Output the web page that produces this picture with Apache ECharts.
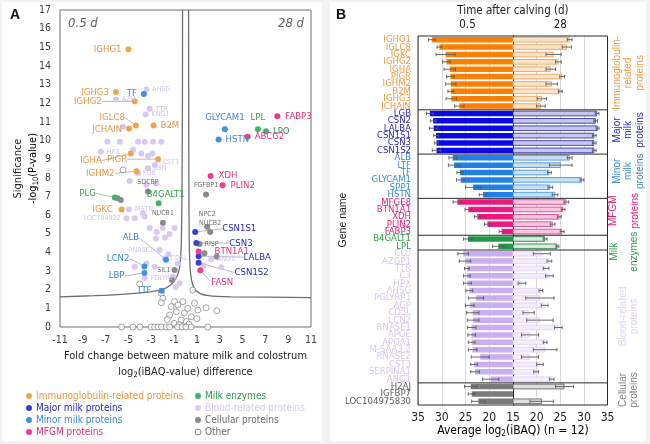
<!DOCTYPE html>
<html><head><meta charset="utf-8">
<script src="https://cdn.jsdelivr.net/npm/echarts@6/dist/echarts.min.js"></script>
<style>html,body{margin:0;padding:0;background:#f2f2f2}#c{width:650px;height:444px}</style>
</head><body><div id="c"></div>
<script>
// ================= Panel A data (volcano) : [log2 diff, -log10 P, gene] =================
const igPts = [[-5.0,14.9,'IGHG1'],[-6.1,12.6,'IGHG3'],[-4.45,12.1,'IGHG2'],[-4.35,10.8,'IGLC8'],[-4.95,10.65,'JCHAIN'],[-2.8,10.8,'B2M'],[-4.8,9.3,'IGHA'],[-2.4,9.0,'PIGR'],[-4.3,8.35,'IGHM2'],[-5.6,6.3,'IGKC']];
const majorPts = [[0.85,5.1,'CSN1S1'],[0.95,4.5,'CSN3'],[1.15,3.8,'LALBA'],[1.15,3.45,'CSN1S2']];
const minorPts = [[-3.65,12.5,'TF'],[3.45,10.6,'GLYCAM1'],[2.9,10.05,'HSTN'],[-1.7,3.6,'ALB'],[-3.6,3.25,'LCN2'],[-3.6,2.9,'LBP'],[-2.1,1.95,'LTF']];
const mfgmPts = [[8.05,11.3,'FABP3'],[5.45,10.2,'ABCG2'],[2.2,8.1,'XDH'],[3.25,7.6,'PLIN2'],[1.15,4.05,'BTN1A1'],[1.3,3.05,'FASN']];
const enzymePts = [[6.35,10.6,'LPL'],[7.05,10.5,'LPO'],[-6.2,6.95,'PLG'],[-2.35,6.63,'B4GALT1']];
const cellPts = [[-5.67,6.81,''],[-5.95,6.9,''],[-3.29,7.26,'SDCBP'],[-1.98,5.59,'NUCB1'],[1.8,7.1,'FGFBP1'],[1.9,5.38,'NPC2'],[2.16,5.1,'NUCB2'],[1.23,4.45,'RISP'],[1.66,3.95,''],[2.74,3.77,''],[-0.96,3.06,'SIL1'],[-1.19,2.52,'']];
const bloodPts = [[-3.43,12.74,'AHSG'],[-6.1,12.2,'A2M'],[-3.14,11.7,'TTR'],[-3.5,11.4,'KNG1'],[-5.47,10.74,''],
 [-6.84,9.94,''],[-5.76,9.94,''],[-4.16,9.94,''],[-3.58,9.94,''],[-2.85,9.94,''],[-2.12,9.94,''],
 [-7.42,9.4,'HPX'],[-4.6,9.5,''],[-3.87,9.31,''],[-3.29,9.17,''],[-2.9,9.3,''],
 [-3.29,8.51,'GSN'],[-4.16,8.24,'FGB'],[-2.7,8.7,'CST3'],[-4.89,7.83,''],[-3.43,7.61,''],[-2.56,7.7,''],
 [-4.95,6.31,'MSTN'],[-3.72,6.1,''],[-5.17,5.83,'LOC784932'],[-4.45,5.83,''],[-3.58,5.92,''],
 [-3.14,5.31,''],[-2.53,5.09,''],[-2.0,5.31,''],[-1.4,4.99,''],[-0.96,5.31,''],[-1.8,4.8,''],[-2.6,4.75,''],
 [-2.27,4.13,'RNASE2'],[-4.45,3.23,''],[-3.43,3.41,''],[-2.7,3.23,''],[-1.83,3.68,'CD5L'],[-1.5,3.9,''],
 [-3.58,2.61,'PGLYRP1'],[-0.67,3.41,''],[-1.1,2.7,''],[-0.52,2.34,''],[-0.85,2.15,''],
 [2.25,3.63,'ANG1'],[3.12,3.2,''],[1.6,3.3,'']];
const otherPts = [[-5.47,8.42],[-4.01,2.31],[-2.12,1.81],[-1.98,1.54],[-2.12,1.3],[-0.96,1.36],[-1.25,1.09],[-0.67,1.18],[-0.23,1.36],[-1.39,0.64],[-0.81,0.82],[-0.37,0.38],[0.07,0.29],[0.5,0.55],[0.79,1.27],[0.64,1.98],[1.08,0.91],[1.81,1.03],[2.74,0.87],[-1.6,0.4],[-1.0,0.2],[-0.55,0.12],[0.3,0.15],[1.0,0.45],[-0.1,0.75],[0.2,1.0],
 [-5.6,0],[-4.6,0],[-4.0,0],[-3.0,0],[-2.7,0],[-2.4,0],[-2.1,0],[-1.7,0],[-1.4,0],[-0.7,0],[-0.3,0],[0.05,0],[0.5,0],[1.95,0]];
// significance threshold curves
const leftCurve = [[-11,1.62],[-8,1.68],[-5,1.78],[-3,1.9],[-2,2.02],[-1.3,2.25],[-0.8,2.65],[-0.55,3.1],[-0.42,3.8],[-0.35,5],[-0.3,8],[-0.27,12],[-0.26,17]];
const rightCurve = [[0.27,17],[0.28,12],[0.3,7],[0.33,4.5],[0.4,3.2],[0.52,2.55],[0.75,2.1],[1.2,1.82],[2,1.68],[4,1.62],[11,1.58]];
const xTicksA = [-11,11,2];
const yTicksA = [0,17,1];
const legendNames = ['Immunoglobulin-related proteins','Major milk proteins','Minor milk proteins','MFGM proteins','Milk enzymes','Blood-related proteins','Cellular proteins','Other'];

// ================= Panel B data =================
const groupNames = ['Immunoglobulin-related proteins','Major milk proteins','Minor milk proteins','MFGM proteins','Milk enzymes','Blood-related proteins','Cellular proteins'];
const groupLabelLines = [['Immunoglobulin-','related','proteins'],['Major','milk','proteins'],['Minor','milk','proteins'],['MFGM','proteins'],['Milk','enzymes'],['Blood-related','proteins'],['Cellular','proteins']];
const groupSizes = [10,6,6,5,2,18,3];
const genesB = ['IGHG1','IGLC8','IGKC','IGHG2','IGHA','PIGR','IGHM2','B2M','IGHG3','JCHAIN',
 'LGB','CSN2','LALBA','CSN1S1','CSN3','CSN1S2',
 'ALB','LTF','TF','GLYCAM1','SPP1','HSTN',
 'MFGE8','BTN1A1','XDH','PLIN2','FABP3',
 'B4GALT1','LPL',
 'CLU','AZGP1','TTR','C3','HPX','AHSG','PGLYRP1','AGP','CD5L','LCN2','RNASE1','APOE','APOA1','M-SAA3.2','RNASE2','CST3','SERPINA1','ANG1',
 'H2AJ','IGFBP7','LOC104975830'];
const mean05 = [32.1,30.5,29.2,29.0,28.3,28.2,28.1,28.1,28.0,26.3,
 32.5,31.8,31.7,31.2,31.1,31.1,
 27.7,27.4,26.2,26.0,23.4,21.3,
 26.7,24.4,22.5,20.4,17.4,
 24.5,18.1,
 25.5,25.1,24.7,24.7,24.6,24.2,22.8,24.1,23.5,23.4,23.7,23.7,23.7,23.5,21.9,23.2,23.0,19.7,
 23.9,23.7,22.3];
const sd05 = [0.7,0.5,2.0,0.8,1.2,0.8,1.1,0.6,1.1,1.0,
 0.7,0.6,0.9,0.5,0.4,0.9,
 0.8,1.2,0.6,0.9,1.6,0.8,
 0.9,0.7,0.6,0.6,0.5,
 0.9,1.2,
 1.1,1.2,0.5,0.7,0.8,0.7,1.6,0.9,1.3,1.2,0.9,0.8,0.7,0.9,1.9,0.7,0.9,1.7,
 1.3,0.7,1.4];
const mean28 = [27.0,26.4,23.6,24.6,23.0,25.4,23.2,25.0,21.1,20.9,
 32.8,32.5,32.9,32.2,32.2,32.2,
 27.0,25.1,22.7,29.6,22.9,23.9,
 26.3,25.6,24.8,23.4,25.4,
 21.8,24.4,
 21.1,22.7,22.0,22.7,16.9,20.9,20.7,21.7,18.3,20.7,24.6,18.6,21.8,21.8,18.6,20.7,19.9,23.2,
 25.9,null,21.1];
const sd28 = [0.5,1.0,1.6,0.6,1.0,0.5,1.2,0.4,1.0,0.9,
 0.4,0.4,0.3,0.4,0.4,0.4,
 0.5,2.4,0.4,0.4,0.5,0.6,
 0.5,0.4,0.4,0.5,0.4,
 0.4,0.3,
 1.8,0.5,0.6,0.8,0.8,0.4,3.0,0.7,1.2,2.8,0.8,1.8,0.4,2.5,1.8,0.7,0.5,0.5,
 1.9,null,2.5];
const timeLabels = ['0.5','28'];
const xTicksB = [15,35,5];

// ================= styles =================
const FN = "'Liberation Sans Narrow','DejaVu Sans Condensed','Liberation Sans',Arial,sans-serif";
const FR = "'Liberation Sans',Arial,sans-serif";
const dotCols = ['#f0a24c','#3c3cd4','#3f92e0','#ec3c8e','#3fb56c','#dac8f4','#8a8a8a'];
const txtCols = ['#ea9440','#2a2ab8','#3a86d0','#e0307e','#2e9e4e','#d2bfef','#6e6e6e'];
const darkCols = ['#ff8000','#0a0ae6','#1f80e8','#ee1680','#1e9a48','#c9aef2','#7a7a7a'];
const paleCols = ['#fde3c4','#c6c6f5','#c5e1f8','#fbc6e2','#d3eedb','#f3ecfc','#dedede'];
const paleBord = ['#e39a52','#25259a','#3c8dd6','#d8337f','#1f6e33','#e0d2f5','#595959'];
const geneCols = ['#ee9a44','#2a2ab4','#3a8ad6','#e0207a','#2e9a4a','#d6c6f0','#595959'];
// label placement for volcano: [position, distance, dx, dy, leaderLine]
const labelPos = {
 IGHG1:['left',4,0,0],IGHG3:['left',4,0,0],IGHG2:['left',30,0,0,1],TF:['left',4,0,0],IGLC8:['left',6,-2,-8,1],
 JCHAIN:['left',4,0,1],B2M:['right',4,0,0],IGHA:['left',26,0,7,1],PIGR:['left',28,0,0,1],IGHM2:['left',19,0,2,1],
 IGKC:['left',6,0,0],PLG:['left',16,0,-4,1],B4GALT1:['top',1,7,0],ALB:['left',24,0,-22,1],LCN2:['left',12,0,-8,1],
 LBP:['left',17,0,3,1],LTF:['left',7,0,0],GLYCAM1:['top',4,0,0],HSTN:['right',4,0,0],LPL:['top',4,0,0],LPO:['right',4,0,0],
 FABP3:['right',5,0,0],ABCG2:['right',4,0,0],XDH:['right',5,0,0],PLIN2:['right',5,0,0],CSN1S1:['right',24,0,-3,1],
 CSN3:['right',30,0,0,1],BTN1A1:['right',13,0,0],LALBA:['right',42,0,1,1],CSN1S2:['right',33,0,10,1],FASN:['right',8,0,12,1],
 AHSG:['right',3,0,0],A2M:['right',3,0,0],TTR:['right',3,0,0],KNG1:['right',3,0,0],HPX:['right',3,0,0],GSN:['right',2,0,0],
 FGB:['right',2,0,0],CST3:['right',3,2,-3],MSTN:['right',3,0,0],LOC784932:['left',3,0,0],RNASE2:['left',3,0,0],CD5L:['right',3,0,0],
 PGLYRP1:['right',3,0,0],ANG1:['right',3,0,0],SDCBP:['top',3,0,0],NUCB1:['top',3,0,0],FGFBP1:['top',3,0,0],NPC2:['top',6,0,0],
 NUCB2:['top',2,0,0],RISP:['right',2,0,0],SIL1:['left',1,0,0]
};

function items(pts){
  return pts.map(p=>{
    const it={value:[p[0],p[1]],name:p[2]||''};
    const lp=p[2]?labelPos[p[2]]:null;
    if(lp){
      it.label={show:true,position:lp[0],distance:lp[1],offset:[lp[2],lp[3]]};
      if(lp[4]) it.labelLine={show:true};
    }
    return it;
  });
}
function volcSeries(pts,g,small){
  return {type:'scatter',xAxisIndex:0,yAxisIndex:0,symbolSize:6,data:items(pts),
    itemStyle:{color:dotCols[g],opacity:1},
    label:{show:false,formatter:'{b}',color:txtCols[g],fontSize:small?7:9.5,fontFamily:FN},
    labelLine:{show:false,lineStyle:{color:'#8c8c8c',width:0.6}},z:3};
}

const geneGroup=[]; groupSizes.forEach((n,g)=>{for(let i=0;i<n;i++) geneGroup.push(g);});

function errSeries(ax,means,sds){
  const data=[]; means.forEach((m,i)=>{ if(m!=null&&sds[i]!=null) data.push([m,sds[i],i]); });
  return {type:'custom',xAxisIndex:ax,yAxisIndex:ax,data:data,encode:{x:0,y:2},z:5,silent:true,clip:false,
    renderItem:function(params,api){
      const m=api.value(0),s=api.value(1),c=api.value(2);
      const a=api.coord([m-s,c]),b=api.coord([m+s,c]);
      const h=1.8, st={stroke:'#5a5a5a',lineWidth:0.9};
      return {type:'group',children:[
        {type:'line',shape:{x1:a[0],y1:a[1],x2:b[0],y2:b[1]},style:st},
        {type:'line',shape:{x1:a[0],y1:a[1]-h,x2:a[0],y2:a[1]+h},style:st},
        {type:'line',shape:{x1:b[0],y1:b[1]-h,x2:b[0],y2:b[1]+h},style:st}]};
    }};
}

const chart = echarts.init(document.getElementById('c'));
const option = {
  animation:false,
  backgroundColor:'transparent',
  textStyle:{fontFamily:FN},
  grid:[
    {left:60,top:10,width:251,height:317,show:true,borderColor:'#6e6e6e',borderWidth:1,backgroundColor:'transparent'},
    {left:418,top:36,width:95,height:369},
    {left:513,top:36,width:94.5,height:369}
  ],
  xAxis:[
    {type:'value',gridIndex:0,min:xTicksA[0],max:xTicksA[1],interval:xTicksA[2],axisLine:{show:false},axisTick:{show:false},splitLine:{show:false},
     axisLabel:{fontSize:10.5,color:'#404040',margin:8,fontFamily:FN}},
    {type:'value',gridIndex:1,min:xTicksB[0],max:xTicksB[1],interval:xTicksB[2],inverse:true,axisLine:{show:false},axisTick:{show:false},
     splitLine:{show:true,lineStyle:{color:'#d9d9d9',width:1}},axisLabel:{showMinLabel:false,fontSize:12,color:'#222',margin:7,fontFamily:FN}},
    {type:'value',gridIndex:2,min:xTicksB[0],max:xTicksB[1],interval:xTicksB[2],axisLine:{show:false},axisTick:{show:false},
     splitLine:{show:true,lineStyle:{color:'#d9d9d9',width:1}},axisLabel:{fontSize:12,color:'#222',margin:7,fontFamily:FN}}
  ],
  yAxis:[
    {type:'value',gridIndex:0,min:yTicksA[0],max:yTicksA[1],interval:yTicksA[2],axisLine:{show:false},axisTick:{show:false},splitLine:{show:false},
     axisLabel:{fontSize:10.5,color:'#404040',margin:9,fontFamily:FN}},
    {type:'category',gridIndex:1,data:genesB,inverse:true,axisLine:{show:false},axisTick:{show:false},
     axisLabel:{interval:0,fontSize:9.5,lineHeight:8,margin:7,fontFamily:FN,color:function(v,i){return geneCols[geneGroup[i]];}}},
    {type:'category',gridIndex:2,data:genesB,inverse:true,axisLine:{show:true,lineStyle:{color:'#333',width:1}},
     axisTick:{show:true,length:3,alignWithLabel:true,lineStyle:{color:'#333'}},axisLabel:{show:false}}
  ],
  series:[
    {type:'line',xAxisIndex:0,yAxisIndex:0,data:leftCurve,showSymbol:false,symbol:'none',smooth:0.25,lineStyle:{color:'#6e6e6e',width:1.3},z:1,silent:true},
    {type:'line',xAxisIndex:0,yAxisIndex:0,data:rightCurve,showSymbol:false,symbol:'none',smooth:0.25,lineStyle:{color:'#6e6e6e',width:1.3},z:1,silent:true},
    {type:'scatter',xAxisIndex:0,yAxisIndex:0,symbolSize:6,data:otherPts,itemStyle:{color:'#ffffff',borderColor:'#707070',borderWidth:0.8},z:2},
    volcSeries(bloodPts,5,true),
    volcSeries(cellPts,6,true),
    volcSeries(igPts,0,false),
    volcSeries(majorPts,1,false),
    volcSeries(minorPts,2,false),
    volcSeries(mfgmPts,3,false),
    volcSeries(enzymePts,4,false),
    {type:'bar',xAxisIndex:1,yAxisIndex:1,barWidth:5.5,silent:true,
     data:mean05.map((v,i)=>({value:v,itemStyle:{color:darkCols[geneGroup[i]]}}))},
    {type:'bar',xAxisIndex:2,yAxisIndex:2,barWidth:5.5,silent:true,
     data:mean28.map((v,i)=>v==null?'-':({value:v,itemStyle:{color:paleCols[geneGroup[i]],borderColor:paleBord[geneGroup[i]],borderWidth:0.8}}))},
    errSeries(1,mean05,sd05),
    errSeries(2,mean28,sd28)
  ]
};
chart.setOption(option);

// ---------- annotations derived from the axes ----------
const g = [];
g.push({type:'rect',z:-10,shape:{x:2,y:2,width:320,height:439},style:{fill:'#fff'}});
g.push({type:'rect',z:-10,shape:{x:330,y:2,width:316,height:439},style:{fill:'#fff'}});
g.push({type:'text',x:10,y:8,style:{text:'A',font:"bold 14px "+FR,fill:'#111'}});
g.push({type:'text',x:336,y:8,style:{text:'B',font:"bold 14px "+FR,fill:'#111'}});
// panel A texts
const aL = chart.convertToPixel({xAxisIndex:0},xTicksA[0]), aR = chart.convertToPixel({xAxisIndex:0},xTicksA[1]);
const aT = chart.convertToPixel({yAxisIndex:0},yTicksA[1]), aB = chart.convertToPixel({yAxisIndex:0},yTicksA[0]);
const aMid = (aL+aR)/2;
g.push({type:'text',x:aL+8,y:aT+14,style:{text:'0.5 d',font:"italic 13px "+FN,fill:'#606060',verticalAlign:'middle'}});
g.push({type:'text',x:aR-7,y:aT+14,style:{text:'28 d',font:"italic 13px "+FN,fill:'#606060',align:'right',verticalAlign:'middle'}});
g.push({type:'text',x:aMid,y:aB+29,style:{text:'Fold change between mature milk and colostrum',font:"11px "+FN,fill:'#222',align:'center',verticalAlign:'middle'}});
g.push({type:'text',x:aMid,y:aB+45,style:{text:'{a|log}{s|2}{a|(iBAQ-value) difference}',align:'center',verticalAlign:'middle',
  rich:{a:{fontSize:11,fontFamily:FN,fill:'#222',color:'#222'},s:{fontSize:7.5,fontFamily:FN,color:'#222',padding:[6,0,0,0]}}}});
const aYm = (aT+aB)/2;
g.push({type:'text',x:18,y:aYm,rotation:Math.PI/2,style:{text:'Significance',font:"11px "+FN,fill:'#222',align:'center',verticalAlign:'middle'}});
g.push({type:'text',x:33,y:aYm,rotation:Math.PI/2,style:{text:'{a|-log}{s|10}{a|(P-value)}',align:'center',verticalAlign:'middle',
  rich:{a:{fontSize:11,fontFamily:FN,color:'#222'},s:{fontSize:7.5,fontFamily:FN,color:'#222',padding:[6,0,0,0]}}}});
// legend
const legCols = [txtCols[0],txtCols[1],txtCols[2],txtCols[3],txtCols[4],'#d8c6f2','#6a6a6a','#6a6a6a'];
const legDots = [dotCols[0],dotCols[1],dotCols[2],dotCols[3],dotCols[4],dotCols[5],dotCols[6],'#fff'];
legendNames.forEach((nm,i)=>{
  const col=Math.floor(i/4), row=i%4;
  const x = col===0?29:198, y = aB+69+row*12;
  g.push({type:'circle',shape:{cx:x,cy:y,r:3},style:{fill:legDots[i],stroke:i===7?'#6a6a6a':null,lineWidth:0.8}});
  g.push({type:'text',x:x+7,y:y,style:{text:nm,font:"10px "+FN,fill:legCols[i],verticalAlign:'middle'}});
});
// panel B frame, separators and labels
const xL = chart.convertToPixel({xAxisIndex:1},xTicksB[1]);
const xC = chart.convertToPixel({xAxisIndex:2},xTicksB[0]);
const xR = chart.convertToPixel({xAxisIndex:2},xTicksB[1]);
const yc = genesB.map(n=>chart.convertToPixel({yAxisIndex:1},n));
const step = yc[1]-yc[0];
const yTop = yc[0]-step/2, yBot = yc[yc.length-1]+step/2;
const ln = {stroke:'#2a2a2a',lineWidth:1};
g.push({type:'rect',z:50,shape:{x:xL,y:yTop,width:xR-xL,height:yBot-yTop},style:{fill:null,stroke:'#2a2a2a',lineWidth:1}});
let cum=0;
groupSizes.forEach((n,gi)=>{
  const y0 = yc[cum]-step/2, y1 = yc[cum+n-1]+step/2, ym=(y0+y1)/2;
  if(cum>0) g.push({type:'line',z:50,shape:{x1:xL,y1:y0,x2:xR,y2:y0},style:ln});
  const lines = groupLabelLines[gi];
  const xo = lines.length===3?[10,21,33]:(gi===3?[6,28]:(gi===4?[7,27]:[16,27]));
  const yshift = [0,-2,-5,-6,9,0,-4][gi];
  lines.forEach((t,k)=>{
    g.push({type:'text',x:xR+xo[k],y:ym+yshift,rotation:Math.PI/2,style:{text:t,font:"10px "+FR,fill:geneCols[gi]==='#d6c6f0'?'#e0d2f4':(gi===6?'#808080':geneCols[gi]),align:'center',verticalAlign:'middle'}});
  });
  cum+=n;
});
g.push({type:'text',x:xC,y:11,style:{text:'Time after calving (d)',font:"11.5px "+FN,fill:'#222',align:'center',verticalAlign:'middle'}});
g.push({type:'text',x:(xL+xC)/2+2,y:25,style:{text:timeLabels[0],font:"11.5px "+FN,fill:'#222',align:'center',verticalAlign:'middle'}});
g.push({type:'text',x:(xC+xR)/2,y:25,style:{text:timeLabels[1],font:"11.5px "+FN,fill:'#222',align:'center',verticalAlign:'middle'}});
g.push({type:'text',x:xC,y:yBot+26,style:{text:'{a|Average log}{s|2}{a|(iBAQ) (n = 12)}',align:'center',verticalAlign:'middle',
  rich:{a:{fontSize:12,fontFamily:FN,color:'#222'},s:{fontSize:8,fontFamily:FN,color:'#222',padding:[6,0,0,0]}}}});
g.push({type:'text',x:343,y:220,rotation:Math.PI/2,style:{text:'Gene name',font:"10.5px "+FR,fill:'#222',align:'center',verticalAlign:'middle'}});
chart.setOption({graphic:g});
</script></body></html>
